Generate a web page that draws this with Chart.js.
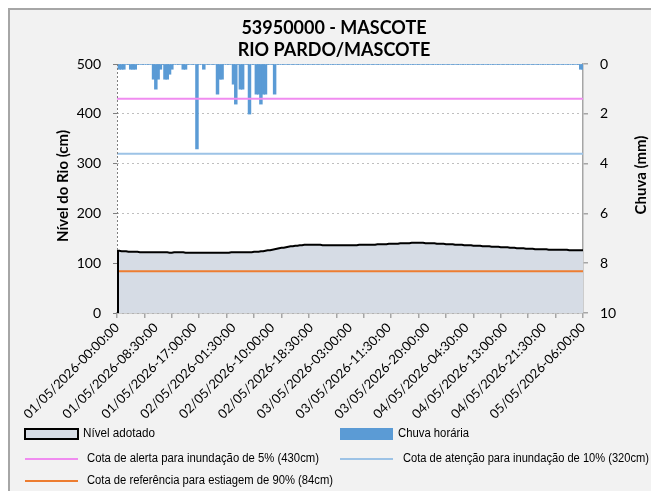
<!DOCTYPE html>
<html><head><meta charset="utf-8">
<script src="https://cdn.jsdelivr.net/npm/chart.js@4.4.1/dist/chart.umd.min.js"></script>
<style>html,body{margin:0;padding:0;background:#fff;}#wrap{width:651px;height:491px;position:relative;}</style>
</head><body><div id="wrap"><canvas id="c" width="651" height="491"></canvas></div>
<script>
const TITLE_LINES = ['53950000 - MASCOTE', 'RIO PARDO/MASCOTE'];
const Y_LEFT_TITLE = 'Nível do Rio (cm)';
const Y_RIGHT_TITLE = 'Chuva (mm)';
const LEGEND_NAMES = ['Nível adotado', 'Chuva horária',
  'Cota de alerta para inundação de 5% (430cm)',
  'Cota de atenção para inundação de 10% (320cm)',
  'Cota de referência para estiagem de 90% (84cm)'];

// categories: 30-minute steps from 01/05/2026 00:00 to 05/05/2026 06:00
const N_POINTS = 205;
const LABEL_EVERY = 17;
const TICKMARK_EVERY = 12;
const pad = n => String(n).padStart(2, '0');
const categories = [];
for (let i = 0; i < N_POINTS; i++) {
  const m = i * 30;
  const d = 1 + Math.floor(m / 1440);
  const r = m % 1440;
  categories.push(pad(d) + '/05/2026-' + pad(Math.floor(r / 60)) + ':' + pad(r % 60) + ':00');
}

// Nível adotado (cm)
const levelCm = [
  125,125,124,124,124,123,123,123,123,123,122,122,122,
  122,122,122,122,122,122,122,122,122,122,121,121,122,122,122,122,122,121,121,121,121,121,121,
  121,121,121,121,121,121,121,121,121,121,121,121,121,121,122,122,122,122,122,122,122,122,122,122,123,
  123,123,124,124,125,126,126,127,128,129,130,131,131,132,133,134,134,135,135,136,136,137,137,137,
  137,137,137,137,137,136,136,136,136,136,136,136,136,136,136,136,136,136,136,136,136,137,137,137,137,
  137,137,137,137,138,138,138,138,138,139,139,139,139,139,140,140,140,140,140,141,141,141,
  141,141,141,140,140,140,140,140,139,139,139,139,138,138,138,138,137,137,137,137,136,136,
  136,136,135,135,135,135,134,134,134,134,133,133,133,133,132,132,132,132,131,131,131,130,130,130,130,129,129,129,129,
  128,128,128,128,128,128,127,127,127,127,127,127,127,127,127,126,126,126,126,126,126,126
];

// Chuva horária (mm)
const rainMm = [
  0,0.2,0.2,0.2,0,0,0.2,0.2,0.2,0,0,0,0,0,0,0,0.6,1.0,0.6,0.2,
  0,0.6,0.6,0.4,0.2,0,0,0,0,0.2,0.2,0,0,0,0,3.4,0,0,0.2,0,
  0,0,0,0,1.2,0.6,0.6,0,0,0,0,0.8,1.6,0,1.0,1.0,0,0,2.0,0,
  0,1.2,1.2,1.6,1.2,1.2,0,0,0,1.2,0,0,0,0,0,0,0,0,0,0,
  0,0,0,0,0,0,0,0,0,0,0,0,0,0,0,0,0,0,0,0,
  0,0,0,0,0,0,0,0,0,0,0,0,0,0,0,0,0,0,0,0,
  0,0,0,0,0,0,0,0,0,0,0,0,0,0,0,0,0,0,0,0,
  0,0,0,0,0,0,0,0,0,0,0,0,0,0,0,0,0,0,0,0,
  0,0,0,0,0,0,0,0,0,0,0,0,0,0,0,0,0,0,0,0,
  0,0,0,0,0,0,0,0,0,0,0,0,0,0,0,0,0,0,0,0,
  0,0,0,0.2,0.2
];

const COTA_ALERTA = 430;
const COTA_ATENCAO = 320;
const COTA_ESTIAGEM = 84;
const Y_LEFT_TICKS = [0, 100, 200, 300, 400, 500];
const Y_RIGHT_TICKS = [0, 2, 4, 6, 8, 10];

const COLORS = { area: '#d6dce5', rain: '#5b9bd5', alerta: '#f08cf0', atencao: '#9dc3e6', estiagem: '#ed7d31' };
const FONT = 'Lato, "Open Sans", sans-serif';

const decor = {
  id: 'decor',
  beforeDraw(chart) {
    const { ctx, chartArea: a, width, height } = chart;
    ctx.save();
    ctx.fillStyle = '#ffffff'; ctx.fillRect(0, 0, width, height);
    ctx.fillStyle = '#f2f2f2'; ctx.fillRect(8, 8, width, height);
    ctx.strokeStyle = '#a6a6a6'; ctx.lineWidth = 2;
    ctx.beginPath(); ctx.moveTo(9, height + 2); ctx.lineTo(9, 9); ctx.lineTo(width + 2, 9); ctx.stroke();
    ctx.fillStyle = '#ffffff'; ctx.fillRect(a.left, a.top, a.right - a.left, a.bottom - a.top);
    ctx.restore();
  },
  afterDatasetsDraw(chart) {
    const { ctx, chartArea: a, scales } = chart;
    ctx.save();
    // dotted left axis line
    ctx.strokeStyle = '#7f7f7f'; ctx.lineWidth = 1; ctx.setLineDash([2, 2]);
    ctx.beginPath(); ctx.moveTo(a.left + 0.5, a.top); ctx.lineTo(a.left + 0.5, a.bottom); ctx.stroke();
    ctx.setLineDash([]);
    // left edge of area
    ctx.strokeStyle = '#000'; ctx.lineWidth = 2;
    ctx.beginPath();
    ctx.moveTo(a.left + 1, scales.y.getPixelForValue(0));
    ctx.lineTo(a.left + 1, scales.y.getPixelForValue(levelCm[0]));
    ctx.stroke();
    ctx.restore();
  },
  afterDraw(chart) {
    const { ctx } = chart;
    ctx.save();
    ctx.fillStyle = '#000';
    ctx.textAlign = 'center'; ctx.textBaseline = 'middle';
    ctx.font = 'bold 18px ' + FONT;
    ctx.fillText(TITLE_LINES[0], 334, 28);
    ctx.fillText(TITLE_LINES[1], 334, 50);
    ctx.font = 'bold 15px ' + FONT;
    ctx.save(); ctx.translate(63, 186); ctx.rotate(-Math.PI / 2); ctx.fillText(Y_LEFT_TITLE, 0, 0); ctx.restore();
    ctx.save(); ctx.translate(641, 175); ctx.rotate(-Math.PI / 2); ctx.fillText(Y_RIGHT_TITLE, 0, 0); ctx.restore();

    // legend
    ctx.textAlign = 'left';
    ctx.font = '12px "Liberation Sans Narrow", "Liberation Sans", Arial, sans-serif';
    const txt = (s, x, y, w) => {
      const mw = ctx.measureText(s).width;
      if (mw > w) ctx.fillText(s, x, y, w); else ctx.fillText(s, x, y);
    };
    // row 1
    ctx.fillStyle = COLORS.area; ctx.fillRect(25, 429, 53, 10);
    ctx.strokeStyle = '#000'; ctx.lineWidth = 2; ctx.strokeRect(25, 429, 53, 10);
    ctx.fillStyle = COLORS.rain; ctx.fillRect(340, 428, 53, 12);
    ctx.fillStyle = '#000';
    txt(LEGEND_NAMES[0], 83, 434, 72);
    txt(LEGEND_NAMES[1], 398, 434, 71);
    // row 2
    ctx.lineWidth = 2;
    ctx.strokeStyle = COLORS.alerta; ctx.beginPath(); ctx.moveTo(25, 459); ctx.lineTo(78, 459); ctx.stroke();
    ctx.strokeStyle = COLORS.atencao; ctx.beginPath(); ctx.moveTo(340, 459); ctx.lineTo(393, 459); ctx.stroke();
    txt(LEGEND_NAMES[2], 87, 459, 232);
    txt(LEGEND_NAMES[3], 403, 459, 246);
    // row 3
    ctx.strokeStyle = COLORS.estiagem; ctx.beginPath(); ctx.moveTo(25, 481); ctx.lineTo(78, 481); ctx.stroke();
    txt(LEGEND_NAMES[4], 87, 481, 246);
    ctx.restore();
  }
};

const flat = v => new Array(N_POINTS).fill(v);
const lineDs = (label, data, color, order) => ({
  type: 'line', label, data, borderColor: color, borderWidth: 2, pointRadius: 0,
  fill: false, yAxisID: 'y', order
});

new Chart(document.getElementById('c'), {
  type: 'line',
  data: {
    labels: categories,
    datasets: [
      { type: 'line', label: LEGEND_NAMES[0], data: levelCm, yAxisID: 'y', order: 5,
        borderColor: '#000', borderWidth: 2, backgroundColor: COLORS.area, fill: 'origin', pointRadius: 0, tension: 0 },
      { type: 'bar', label: LEGEND_NAMES[1], data: rainMm, yAxisID: 'y2', order: 4,
        backgroundColor: COLORS.rain, borderWidth: 0, categoryPercentage: 1, barPercentage: 1, inflateAmount: 0.6 },
      lineDs(LEGEND_NAMES[3], flat(COTA_ATENCAO), COLORS.atencao, 3),
      lineDs(LEGEND_NAMES[2], flat(COTA_ALERTA), COLORS.alerta, 2),
      lineDs(LEGEND_NAMES[4], flat(COTA_ESTIAGEM), COLORS.estiagem, 1)
    ]
  },
  options: {
    responsive: false, animation: false, events: [],
    layout: { padding: { left: 8, top: 64, right: 0, bottom: 68 } },
    plugins: { legend: { display: false }, tooltip: { enabled: false }, title: { display: false } },
    scales: {
      x: {
        type: 'category', offset: false,
        grid: { offset: false, drawOnChartArea: false, drawTicks: true, tickLength: 5,
          color: c => (c.index % TICKMARK_EVERY === 0 ? '#a6a6a6' : 'rgba(0,0,0,0)'), lineWidth: 1.5 },
        border: { display: true, color: '#a6a6a6', width: 1.5 },
        ticks: { autoSkip: false, maxRotation: 45, minRotation: 45, padding: 2, color: '#000',
          font: { family: FONT, size: 13 },
          callback: function (v, i) { return i % LABEL_EVERY === 0 ? categories[i] : ''; } },
        afterFit: s => { s.height = 110; }
      },
      y: {
        position: 'left', min: 0, max: 500,
        afterBuildTicks: s => { s.ticks = Y_LEFT_TICKS.map(v => ({ value: v })); },
        grid: { color: '#bfbfbf', lineWidth: 1, tickLength: 4, tickColor: '#7f7f7f' },
        border: { display: false, dash: [2, 3] },
        ticks: { padding: 12, color: '#000', font: { family: FONT, size: 14 } },
        afterFit: s => { s.width = 109; }
      },
      y2: {
        position: 'right', min: 0, max: 10, reverse: true,
        afterBuildTicks: s => { s.ticks = Y_RIGHT_TICKS.map(v => ({ value: v })); },
        grid: { drawOnChartArea: false, tickLength: 5, color: '#a6a6a6', lineWidth: 1.5 },
        border: { display: true, color: '#a6a6a6', width: 1.5 },
        ticks: { padding: 12, color: '#000', font: { family: FONT, size: 14 } },
        afterFit: s => { s.width = 68; }
      }
    }
  },
  plugins: [decor]
});
</script></body></html>
